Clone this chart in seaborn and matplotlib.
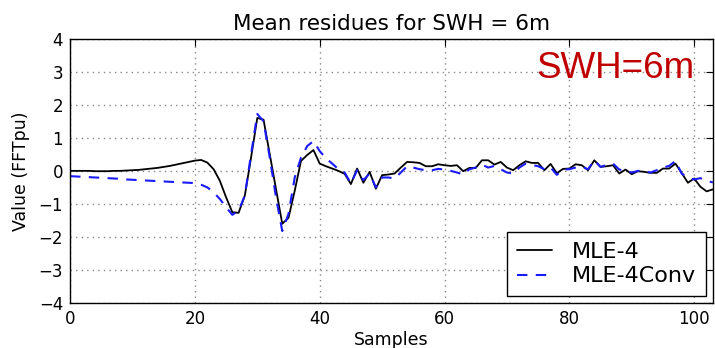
import numpy as np
import pandas as pd
import matplotlib
matplotlib.use("Agg")
import matplotlib.pyplot as plt
import seaborn as sns

samples = list(range(0, 104))

mle4 = [0.0, 0.0, 0.0, 0.0, -0.01, -0.01, -0.01, 0.0, 0.0, 0.01,
        0.02, 0.03, 0.05, 0.07, 0.09, 0.12, 0.15, 0.19, 0.23, 0.27,
        0.31, 0.33, 0.25, 0.05, -0.3, -0.8, -1.25, -1.27, -0.75, 0.4,
        1.6, 1.55, 0.5, -0.55, -1.6, -1.42, -0.6, 0.3, 0.48, 0.63,
        0.22, 0.14, 0.07, 0.0, -0.09, -0.4, 0.07, -0.36, -0.03, -0.54,
        -0.13, -0.11, -0.08, 0.1, 0.27, 0.26, 0.24, 0.14, 0.14, 0.2,
        0.17, 0.15, 0.17, -0.01, 0.09, 0.09, 0.32, 0.32, 0.19, 0.27,
        0.1, 0.02, 0.17, 0.29, 0.24, 0.24, 0.02, 0.21, -0.07, 0.06,
        0.07, 0.2, 0.17, 0.02, 0.32, 0.12, 0.14, 0.17, -0.08, 0.04,
        -0.1, -0.01, -0.03, -0.06, -0.06, 0.07, 0.07, 0.22, -0.06, -0.36,
        -0.23, -0.48, -0.62, -0.56]

mle4conv = [-0.16, -0.17, -0.18, -0.19, -0.2, -0.21, -0.22, -0.23, -0.24, -0.26,
            -0.27, -0.28, -0.29, -0.3, -0.31, -0.32, -0.33, -0.34, -0.35, -0.36,
            -0.37, -0.42, -0.5, -0.65, -0.85, -1.1, -1.33, -1.2, -0.75, 0.5,
            1.72, 1.5, 0.4, -0.8, -1.82, -1.3, -0.2, 0.4, 0.75, 0.9,
            0.6, 0.38, 0.22, 0.05, -0.05, -0.38, 0.02, -0.28, -0.08, -0.5,
            -0.2, -0.2, -0.23, -0.05, 0.14, 0.1, 0.05, 0.02, 0.02, 0.06,
            0.04, 0.0, -0.05, -0.11, 0.05, 0.1, 0.19, 0.1, 0.15, 0.05,
            -0.05, -0.08, 0.1, 0.22, 0.18, 0.14, 0.05, 0.1, -0.12, 0.04,
            0.05, 0.1, 0.12, 0.05, 0.32, 0.12, 0.18, 0.22, 0.04, 0.0,
            -0.05, 0.0, -0.02, -0.05, 0.02, 0.1, 0.15, 0.3, -0.08, -0.2,
            -0.26, -0.22, -0.3, -0.35]

x_ticks = [0, 20, 40, 60, 80, 100]
y_ticks = [-4, -3, -2, -1, 0, 1, 2, 3, 4]

sns.set_style("white")
plt.rcParams['font.family'] = ['DejaVu Sans']
plt.rcParams['text.color'] = 'black'
plt.rcParams['axes.labelcolor'] = 'black'
plt.rcParams['xtick.color'] = 'black'
plt.rcParams['ytick.color'] = 'black'

fig = plt.figure(figsize=(7.15, 3.48), dpi=100)
ax = fig.add_axes([0.098, 0.129, 0.899, 0.760])

df1 = pd.DataFrame({"Samples": samples, "Value": mle4})
df2 = pd.DataFrame({"Samples": samples, "Value": mle4conv})
sns.lineplot(data=df1, x="Samples", y="Value", ax=ax, color="black",
             linewidth=1.3, label="MLE-4")
sns.lineplot(data=df2, x="Samples", y="Value", ax=ax, color="#1a1aff",
             linewidth=1.5, linestyle="--", label="MLE-4Conv")
ax.lines[1].set_dashes((5, 4))

ax.set_xlim(0, 103)
ax.set_ylim(-4, 4)
ax.set_xticks(x_ticks)
ax.set_yticks(y_ticks)
ax.tick_params(direction="in", top=True, right=True, length=5, width=0.8,
               labelsize=12, pad=5, colors="black")
ax.grid(True, color="#888888", linestyle=(0, (1, 3)), linewidth=1.0)
for sp in ax.spines.values():
    sp.set_visible(True)
    sp.set_color("black")
    sp.set_linewidth(1.0)

ax.set_title("Mean residues for SWH = 6m", fontsize=15.5, pad=6, color="black")
ax.set_xlabel("Samples", fontsize=12.5, labelpad=2, color="black")
ax.set_ylabel("Value (FFTpu)", fontsize=12.5, labelpad=6, color="black")

ax.text(0.725, 0.851, "SWH=6m", transform=ax.transAxes, fontsize=26.5,
        color="#c00000", family="Liberation Sans", ha="left", va="baseline")

leg = ax.legend(loc="lower right", fontsize=16, frameon=True, fancybox=False,
                edgecolor="black", framealpha=1, handlelength=1.6,
                borderaxespad=0.3, labelspacing=0.2, borderpad=0.45,
                handletextpad=0.9)
leg.get_frame().set_linewidth(1.0)
for t in leg.get_texts():
    t.set_color("black")

fig.savefig("out.png", dpi=100)
